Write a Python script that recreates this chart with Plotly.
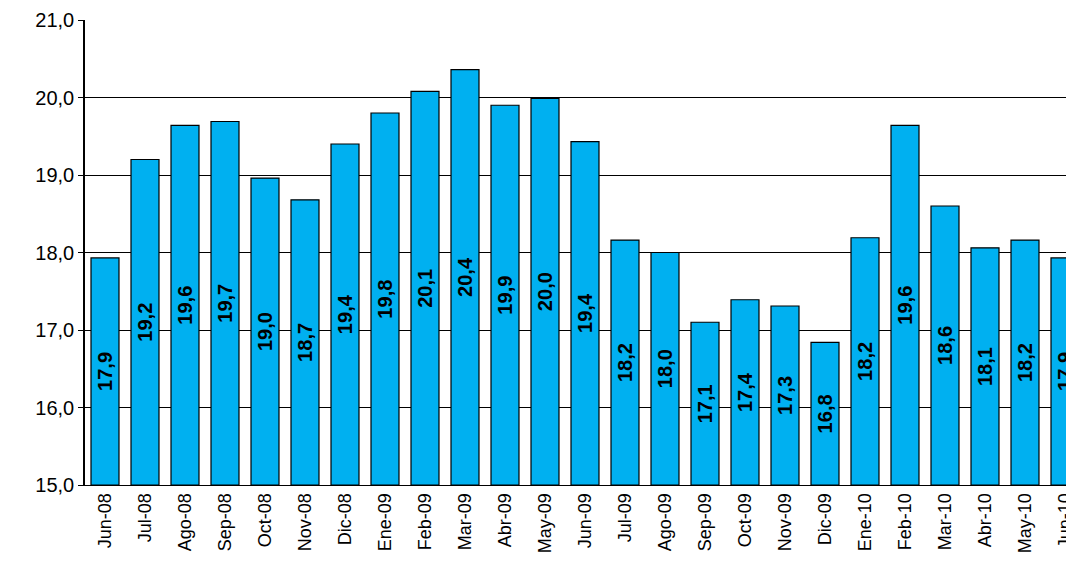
import plotly.graph_objects as go

# Datos de la serie mensual
months = ["Jun-08", "Jul-08", "Ago-08", "Sep-08", "Oct-08", "Nov-08", "Dic-08",
          "Ene-09", "Feb-09", "Mar-09", "Abr-09", "May-09", "Jun-09", "Jul-09",
          "Ago-09", "Sep-09", "Oct-09", "Nov-09", "Dic-09", "Ene-10", "Feb-10",
          "Mar-10", "Abr-10", "May-10", "Jun-10"]
values = [17.93, 19.2, 19.64, 19.69, 18.96, 18.68, 19.4, 19.8, 20.08, 20.36,
          19.9, 19.99, 19.43, 18.16, 18.0, 17.1, 17.39, 17.31, 16.84, 18.19,
          19.64, 18.6, 18.06, 18.16, 17.93]

labels = [f"{v:.1f}".replace(".", ",") for v in values]
base = 15

fig = go.Figure(go.Bar(
    x=months, y=[v - base for v in values], base=base, text=labels,
    marker=dict(color="#00B0F0", line=dict(color="black", width=1.2)),
    width=0.7, textposition="inside", insidetextanchor="middle", textangle=-90,
    textfont=dict(family="Liberation Sans, Arial", size=21, color="black",
                  weight="bold"),
))

fig.update_layout(
    width=1066, height=578, separators=",.",
    margin=dict(l=77, r=0, t=12, b=101, autoexpand=False),
    plot_bgcolor="white", paper_bgcolor="white",
    font=dict(family="Liberation Sans, Arial", size=19, color="black"),
    showlegend=False,
)
fig.update_xaxes(range=[-0.5, 24.225], tickangle=-90, showline=True,
                 linecolor="black", ticks="", tickfont=dict(size=18),
                 automargin=False, ticklabeloverflow="allow")
fig.update_yaxes(range=[15, 21], dtick=1, tickformat=".1f", showgrid=True,
                 gridcolor="black", gridwidth=1, showline=True, linewidth=1.5,
                 linecolor="black", ticks="outside", ticklen=5, tickcolor="black",
                 tickfont=dict(size=20), automargin=False)

fig.write_html("out.html")
